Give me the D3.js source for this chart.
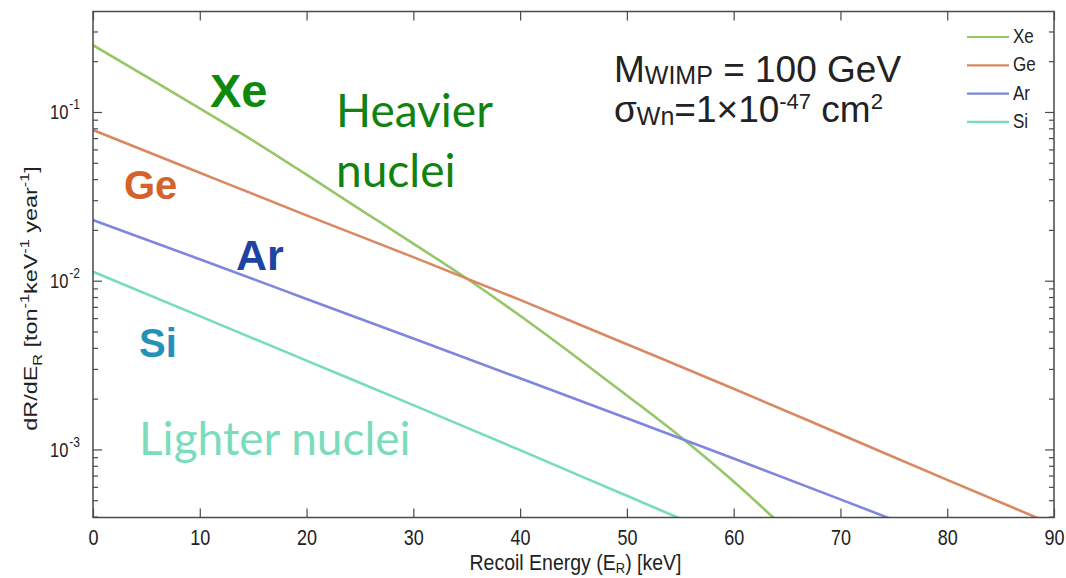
<!DOCTYPE html>
<html>
<head>
<meta charset="utf-8">
<script src="https://cdn.jsdelivr.net/npm/d3@7"></script>
<style>
  html, body { margin: 0; padding: 0; background: #fff; }
  svg { display: block; }
</style>
</head>
<body>
<svg id="chart" width="1066" height="578"></svg>
<script>
// Differential WIMP recoil rate per target nucleus (log scale)
const xeEnergy = [0, 5, 10, 15, 20, 25, 30, 35, 40, 45, 50, 55, 60, 65];
const xeRate   = [0.249, 0.162, 0.105, 0.0676, 0.0425, 0.0265, 0.0166, 0.0103, 0.0062, 0.00363, 0.00209, 0.00119, 0.000646, 0.000331];

const geEnergy = [0, 10, 20, 30, 40, 50, 60, 70, 80, 90];
const geRate   = [0.0782, 0.0436, 0.0244, 0.0138, 0.0077, 0.0042, 0.00229, 0.00123, 0.00066, 0.000357];

const arEnergy = [0, 10, 20, 30, 40, 50, 60, 70, 80];
const arRate   = [0.0229, 0.0134, 0.0078, 0.00454, 0.00264, 0.00153, 0.000883, 0.000506, 0.000288];

const siEnergy = [0, 10, 20, 30, 40, 50, 60];
const siRate   = [0.0113, 0.00617, 0.00336, 0.00183, 0.00099, 0.000531, 0.000285];

const seriesNames = ["Xe", "Ge", "Ar", "Si"];
const xTickValues = [0, 10, 20, 30, 40, 50, 60, 70, 80, 90];
const yMajorTicks = [1e-3, 1e-2, 1e-1];
const yExponents  = ["-3", "-2", "-1"];
const xLimits = [0, 90];
const yLimits = [3.95e-4, 0.394];

const colors = { Xe: "#95c667", Ge: "#d98961", Ar: "#7e86e0", Si: "#76dcba" };

const svg = d3.select("#chart");
const plot = { left: 93, right: 1054, top: 11.5, bottom: 517.5 };

// axis text in the figure is drawn tall and narrow
const axisFont = "'Liberation Sans', Arial, sans-serif";
const stretch = 1.3;

const x = d3.scaleLinear().domain(xLimits).range([plot.left, plot.right]);
const y = d3.scaleLog().domain(yLimits).range([plot.bottom, plot.top]);

// minor log ticks: 2..9 in each decade inside the limits
const yMinorTicks = [];
[1e-4, 1e-3, 1e-2, 1e-1].forEach(d => {
  for (let k = 2; k <= 9; k++) {
    const v = d * k;
    if (v >= yLimits[0] && v <= yLimits[1]) yMinorTicks.push(v);
  }
});

svg.append("defs").append("clipPath").attr("id", "plotClip")
  .append("rect")
  .attr("x", plot.left).attr("y", plot.top)
  .attr("width", plot.right - plot.left).attr("height", plot.bottom - plot.top);

// curves
const series = [
  { name: "Xe", e: xeEnergy, r: xeRate },
  { name: "Ge", e: geEnergy, r: geRate },
  { name: "Ar", e: arEnergy, r: arRate },
  { name: "Si", e: siEnergy, r: siRate }
];
const line = d3.line().x(d => x(d[0])).y(d => y(d[1])).curve(d3.curveMonotoneX);
const curves = svg.append("g").attr("clip-path", "url(#plotClip)");
series.forEach(s => {
  curves.append("path")
    .datum(s.e.map((e, i) => [e, s.r[i]]))
    .attr("d", line)
    .attr("fill", "none")
    .attr("stroke", colors[s.name])
    .attr("stroke-width", 2.6);
});

// axes with inward ticks on all four sides
const axisColor = "#4a4a4a";

function styleAxis(g) {
  g.select(".domain").remove();
  g.selectAll(".tick line").attr("stroke", axisColor).attr("stroke-width", 1.2);
}

const gxb = svg.append("g").attr("transform", `translate(0,${plot.bottom})`)
  .call(d3.axisBottom(x).tickValues(xTickValues).tickSize(-9).tickFormat(d3.format("d")));
styleAxis(gxb);
gxb.selectAll(".tick text")
  .attr("y", 0).attr("dy", null)
  .attr("transform", `translate(0,27.5) scale(1,1.2)`)
  .attr("fill", "#222").attr("font-size", 18).attr("font-family", axisFont);

const gxt = svg.append("g").attr("transform", `translate(0,${plot.top})`)
  .call(d3.axisTop(x).tickValues(xTickValues).tickSize(-9).tickFormat(""));
styleAxis(gxt);

const gyl = svg.append("g").attr("transform", `translate(${plot.left},0)`)
  .call(d3.axisLeft(y).tickValues(yMajorTicks).tickSize(-9).tickFormat(""));
styleAxis(gyl);
gyl.selectAll(".tick text").each(function(d, i) {
  const t = d3.select(this)
    .attr("fill", "#222").attr("font-family", axisFont).attr("font-size", 16.5)
    .attr("dy", null).attr("x", 0).attr("y", 0)
    .attr("transform", `translate(-13,7) scale(1,1.25)`)
    .attr("text-anchor", "end");
  t.append("tspan").text("10");
  t.append("tspan").attr("font-size", 12).attr("dy", -8).attr("dx", 1).text(yExponents[i]);
});

svg.append("g").attr("transform", `translate(${plot.left},0)`)
  .call(d3.axisLeft(y).tickValues(yMinorTicks).tickSize(-5).tickFormat(""))
  .call(styleAxis);

svg.append("g").attr("transform", `translate(${plot.right},0)`)
  .call(d3.axisRight(y).tickValues(yMajorTicks).tickSize(-9).tickFormat(""))
  .call(styleAxis);
svg.append("g").attr("transform", `translate(${plot.right},0)`)
  .call(d3.axisRight(y).tickValues(yMinorTicks).tickSize(-5).tickFormat(""))
  .call(styleAxis);

// frame
svg.append("rect")
  .attr("x", plot.left).attr("y", plot.top)
  .attr("width", plot.right - plot.left).attr("height", plot.bottom - plot.top)
  .attr("fill", "none").attr("stroke", axisColor).attr("stroke-width", 1.5);

// axis titles
const xTitle = svg.append("text")
  .attr("transform", `translate(${(plot.left + plot.right) / 2 + 2},570) scale(1,1.1)`)
  .attr("text-anchor", "middle").attr("font-family", axisFont).attr("font-size", 19.5).attr("fill", "#222");
xTitle.append("tspan").text("Recoil Energy (E");
xTitle.append("tspan").attr("font-size", 13).attr("dy", 3).text("R");
xTitle.append("tspan").attr("dy", -3).text(") [keV]");

const yTitle = svg.append("text")
  .attr("transform", `translate(37,${(plot.top + plot.bottom) / 2 + 34}) scale(1,${stretch}) rotate(-90)`)
  .attr("text-anchor", "middle").attr("font-family", axisFont).attr("font-size", 18).attr("fill", "#222");
yTitle.append("tspan").text("dR/dE");
yTitle.append("tspan").attr("font-size", 12.5).attr("dy", 5).text("R");
yTitle.append("tspan").attr("dy", -5).text(" [ton");
yTitle.append("tspan").attr("font-size", 12.5).attr("dy", -8).text("-1");
yTitle.append("tspan").attr("dy", 8).text("keV");
yTitle.append("tspan").attr("font-size", 12.5).attr("dy", -8).text("-1");
yTitle.append("tspan").attr("dy", 8).text(" year");
yTitle.append("tspan").attr("font-size", 12.5).attr("dy", -8).text("-1");
yTitle.append("tspan").attr("dy", 8).text("]");

// legend
const legend = svg.append("g");
seriesNames.forEach((name, i) => {
  const ly = 37 + i * 28.3;
  legend.append("line")
    .attr("x1", 967).attr("x2", 1009).attr("y1", ly).attr("y2", ly)
    .attr("stroke", colors[name]).attr("stroke-width", 2.2);
  legend.append("text")
    .attr("transform", `translate(1013,${ly + 6}) scale(1,1.15)`)
    .attr("font-family", axisFont).attr("font-size", 17).attr("fill", "#222")
    .text(name);
});

// parameter annotation
const ann1 = svg.append("text").attr("x", 614).attr("y", 82)
  .attr("font-family", axisFont).attr("font-size", 37).attr("fill", "#222");
ann1.append("tspan").text("M");
ann1.append("tspan").attr("font-size", 25).attr("dy", 2).text("WIMP");
ann1.append("tspan").attr("dy", -2).text(" = 100 GeV");

const ann2 = svg.append("text").attr("x", 614).attr("y", 122)
  .attr("font-family", axisFont).attr("font-size", 37).attr("fill", "#222");
ann2.append("tspan").text("σ");
ann2.append("tspan").attr("font-size", 25).attr("dy", 3).text("Wn");
ann2.append("tspan").attr("dy", -3).text("=1×10");
ann2.append("tspan").attr("font-size", 22).attr("dy", -13).text("-47");
ann2.append("tspan").attr("dy", 13).text(" cm");
ann2.append("tspan").attr("font-size", 22).attr("dy", -13).text("2");

// element labels
const elementLabels = [
  { text: "Xe", x: 210, y: 107, size: 47, color: "#0d8a0d" },
  { text: "Ge", x: 124, y: 199, size: 40, color: "#d5622a" },
  { text: "Ar", x: 236, y: 270, size: 43, color: "#1c44a4" },
  { text: "Si", x: 139, y: 357, size: 40, color: "#2591b6" }
];
elementLabels.forEach(l => {
  svg.append("text")
    .attr("x", l.x).attr("y", l.y)
    .attr("font-family", axisFont).attr("font-weight", "bold")
    .attr("font-size", l.size).attr("fill", l.color)
    .text(l.text);
});

const noteFont = "Lato, 'Open Sans', sans-serif";
const notes = [
  { text: "Heavier", x: 336, y: 127, color: "#10820f" },
  { text: "nuclei", x: 336, y: 187, color: "#10820f" },
  { text: "Lighter nuclei", x: 139, y: 455, color: "#7bdcbc" }
];
notes.forEach(n => {
  svg.append("text")
    .attr("x", n.x).attr("y", n.y)
    .attr("font-family", noteFont).attr("font-size", 46).attr("fill", n.color)
    .text(n.text);
});
</script>
</body>
</html>
